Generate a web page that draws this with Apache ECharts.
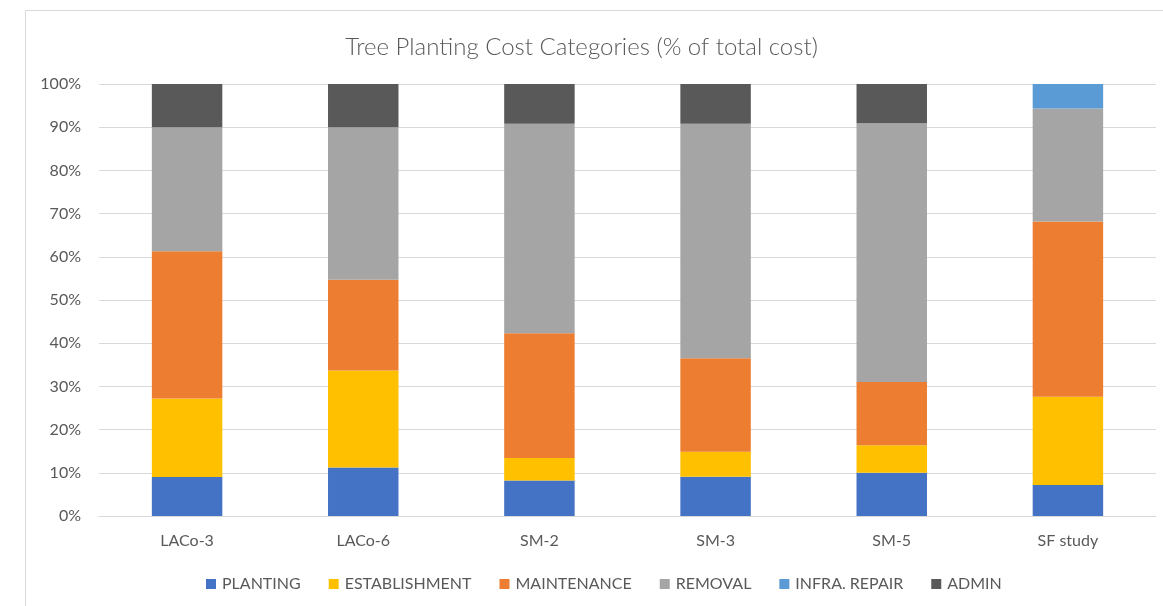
<!DOCTYPE html>
<html>
<head>
<meta charset="utf-8">
<script src="https://cdn.jsdelivr.net/npm/echarts@6/dist/echarts.min.js"></script>
<style>
  html, body { margin: 0; padding: 0; background: #ffffff; }
  #chart { width: 1163px; height: 606px; }
</style>
</head>
<body>
<div id="chart"></div>
<script>
// Share of total tree planting cost, in percent, per study
const categories = ['LACo-3', 'LACo-6', 'SM-2', 'SM-3', 'SM-5', 'SF study'];
const planting      = [9.0, 11.2, 8.2, 9.1, 10.0, 7.2];
const establishment = [18.2, 22.5, 5.2, 5.8, 6.4, 20.4];
const maintenance   = [34.1, 21.0, 28.9, 21.6, 14.6, 40.6];
const removal       = [28.7, 35.3, 48.5, 54.3, 59.9, 26.1];
const infraRepair   = [0, 0, 0, 0, 0, 5.7];
const admin         = [10.0, 10.0, 9.2, 9.2, 9.1, 0];
const yTicks = [0, 10, 20, 30, 40, 50, 60, 70, 80, 90, 100];

const FONT = 'Lato, "Open Sans", sans-serif';
const TEXT = '#595959';
const GRID = '#d9d9d9';

const seriesDefs = [
  { name: 'PLANTING', data: planting, color: '#4472C4' },
  { name: 'ESTABLISHMENT', data: establishment, color: '#FFC000' },
  { name: 'MAINTENANCE', data: maintenance, color: '#ED7D31' },
  { name: 'REMOVAL', data: removal, color: '#A5A5A5' },
  { name: 'INFRA. REPAIR', data: infraRepair, color: '#5B9BD5' },
  { name: 'ADMIN', data: admin, color: '#595959' }
];

const chart = echarts.init(document.getElementById('chart'), null, { renderer: 'canvas' });

chart.setOption({
  animation: false,
  backgroundColor: '#ffffff',
  title: {
    text: 'Tree Planting Cost Categories (% of total cost)',
    left: 'center',
    top: 30,
    textStyle: { fontFamily: FONT, fontSize: 24, fontWeight: 300, color: TEXT }
  },
  graphic: [{
    type: 'rect',
    shape: { x: 25.5, y: 10.5, width: 1200, height: 700 },
    style: { fill: 'none', stroke: GRID, lineWidth: 1 },
    silent: true,
    z: -1
  }],
  legend: {
    bottom: 9,
    left: 201,
    itemWidth: 10,
    itemHeight: 10,
    itemGap: 28,
    icon: 'rect',
    textStyle: { fontFamily: FONT, fontSize: 16, color: TEXT, padding: [0, 0, 0, 1] },
    data: seriesDefs.map(s => s.name)
  },
  grid: { left: 99, right: 7, top: 84, bottom: 90, containLabel: false },
  xAxis: {
    type: 'category',
    data: categories,
    axisLine: { show: true, lineStyle: { color: GRID, width: 1 } },
    axisTick: { show: false },
    axisLabel: { fontFamily: FONT, fontSize: 16, color: TEXT, margin: 17 }
  },
  yAxis: {
    type: 'value',
    min: yTicks[0],
    max: yTicks[yTicks.length - 1],
    interval: 10,
    axisLine: { show: false },
    axisTick: { show: false },
    splitLine: { lineStyle: { color: GRID, width: 1 } },
    axisLabel: { fontFamily: FONT, fontSize: 16, color: TEXT, margin: 18, formatter: v => v + '%' }
  },
  series: seriesDefs.map(s => ({
    name: s.name,
    type: 'bar',
    stack: 'total',
    barWidth: '40%',
    data: s.data,
    itemStyle: { color: s.color },
    emphasis: { disabled: true }
  }))
});
</script>
</body>
</html>
